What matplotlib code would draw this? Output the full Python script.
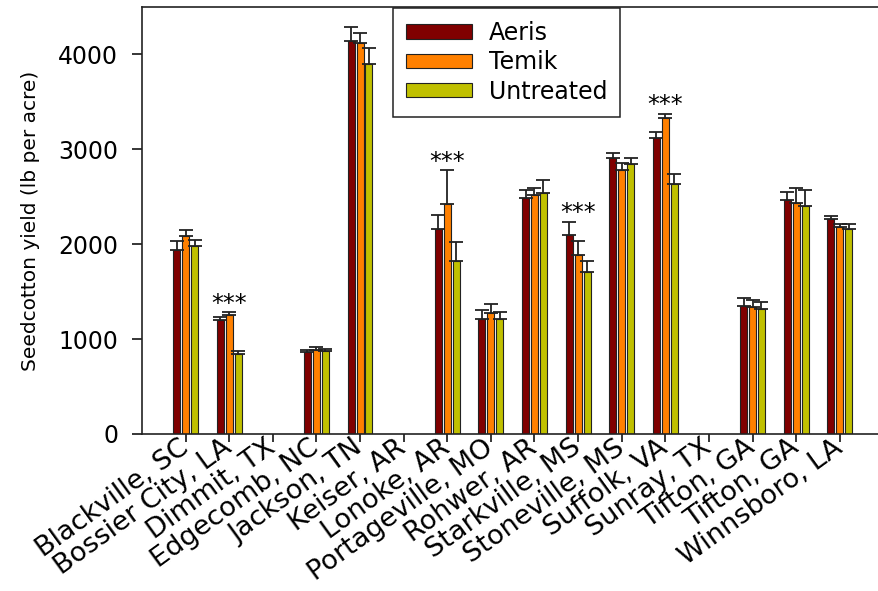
import numpy as np
import matplotlib
matplotlib.use("Agg")
import matplotlib.pyplot as plt
from matplotlib.transforms import ScaledTranslation

plt.rcParams["font.family"] = ["DejaVu Sans"]

nan = np.nan

sites = ["Blackville, SC", "Bossier City, LA", "Dimmit, TX", "Edgecomb, NC",
         "Jackson, TN", "Keiser, AR", "Lonoke, AR", "Portageville, MO",
         "Rohwer, AR", "Starkville, MS", "Stoneville, MS", "Suffolk, VA",
         "Sunray, TX", "Tifton, GA", "Tifton, GA", "Winnsboro, LA"]

aeris = [1940, 1200, nan, 866, 4137, nan, 2165, 1210, 2484, 2102, 2909, 3119, nan, 1351, 2463, 2270]
aeris_se = [95, 35, nan, 18, 150, nan, 140, 92, 88, 133, 49, 67, nan, 77, 91, 28]
temik = [2087, 1253, nan, 884, 4119, nan, 2424, 1277, 2519, 1891, 2782, 3326, nan, 1333, 2432, 2186]
temik_se = [60, 28, nan, 28, 105, nan, 355, 88, 74, 144, 78, 49, nan, 78, 164, 32]
untreated = [1976, 839, nan, 874, 3895, nan, 1828, 1210, 2544, 1712, 2845, 2632, nan, 1312, 2407, 2165]
untreated_se = [66, 38, nan, 17, 175, nan, 200, 71, 130, 116, 60, 112, nan, 84, 161, 53]

# sites with a significant treatment effect
significant = [False, True, False, False, False, False, True, False,
               False, True, False, True, False, False, False, False]

series = [("Aeris", aeris, aeris_se, "#800000"),
          ("Temik", temik, temik_se, "#ff8000"),
          ("Untreated", untreated, untreated_se, "#c0c000")]

fig = plt.figure(figsize=(8.79, 5.91), dpi=100)
ax = fig.add_axes([0.1615, 0.2657, 0.8385, 0.7225])

x = np.arange(len(sites))
width = 0.16
step = 0.205

tops = []
for i, (name, vals, se, color) in enumerate(series):
    vals = np.array(vals, dtype=float)
    se = np.array(se, dtype=float)
    pos = x + (i - 1) * step
    ax.bar(pos, vals, width, color=color, edgecolor="#222222", linewidth=0.8,
           label=name, zorder=2)
    ax.errorbar(pos, vals, yerr=[np.zeros_like(se), se], fmt="none",
                ecolor="#222222", elinewidth=1.3, capsize=5, capthick=1.3, zorder=3)
    tops.append(vals + se)

tops = np.nanmax(np.array(tops), axis=0)
for xi, sig, top in zip(x, significant, tops):
    if sig:
        ax.text(xi, top + 15, "***", ha="center", va="baseline", fontsize=17)

ax.set_xlim(-1, 15.9)
ax.set_ylim(0, 4500)
ax.set_yticks([0, 1000, 2000, 3000, 4000])
ax.set_xticks(x)
ax.set_xticklabels(sites, rotation=36, ha="right", va="center",
                   rotation_mode="anchor", fontsize=19.5)
offset = ScaledTranslation(5 / 72, -23 / 72, fig.dpi_scale_trans)
for lbl in ax.get_xticklabels():
    lbl.set_transform(lbl.get_transform() + offset)

ax.tick_params(axis="y", direction="out", length=7, width=1.1, labelsize=17, pad=10)
ax.tick_params(axis="x", direction="out", length=6, width=1.1, pad=2)
ax.set_ylabel("Seedcotton yield (lb per acre)", fontsize=14.5, labelpad=13)

for side in ["left", "bottom", "top", "right"]:
    ax.spines[side].set_linewidth(1.2)
    ax.spines[side].set_color("#222222")

leg = ax.legend(loc="upper left", bbox_to_anchor=(0.3406, 0.998), borderaxespad=0,
                fontsize=17, fancybox=False, edgecolor="#222222", framealpha=1,
                handlelength=2.8, handleheight=0.55, handletextpad=0.7,
                labelspacing=0.23, borderpad=0.55)
leg.get_frame().set_linewidth(1.1)

fig.savefig("out.png", dpi=100)
